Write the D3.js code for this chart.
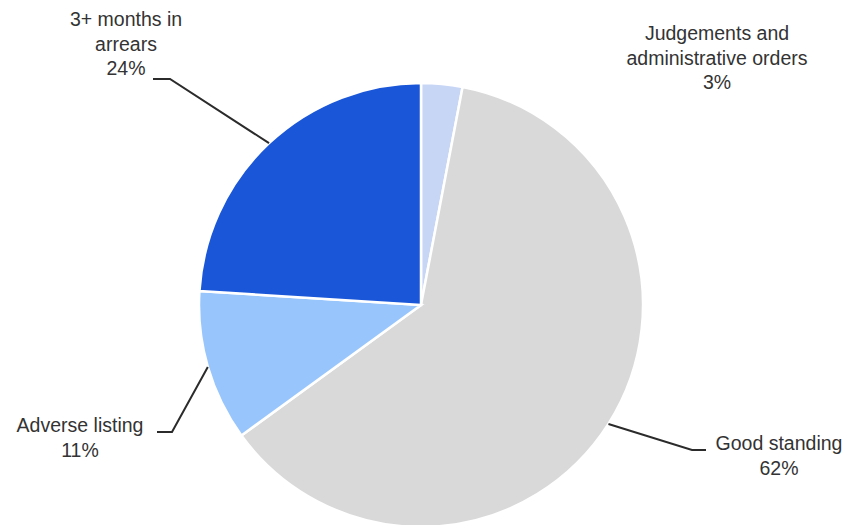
<!DOCTYPE html>
<html>
<head>
<meta charset="utf-8">
<script src="https://cdn.jsdelivr.net/npm/d3@7"></script>
<style>
  body { margin: 0; background: #fff; }
  svg { display: block; }
</style>
</head>
<body>
<div id="chart"></div>
<script>
// data, clockwise from 12 o'clock
const categories = [
  "Judgements and administrative orders",
  "Good standing",
  "Adverse listing",
  "3+ months in arrears"
]
const values = [3, 62, 11, 24]
const labelLines = [
  ["Judgements and", "administrative orders", "3%"],
  ["Good standing", "62%"],
  ["Adverse listing", "11%"],
  ["3+ months in", "arrears", "24%"]
]

const colors = ["#c8d6f6", "#d9d9d9", "#98c6fc", "#1a56d8"]

// label layout: text anchor point, elbow of the leader, end of the leader
const labelLayout = [
  { x: 717, y: 35, elbow: null, end: null },
  { x: 779, y: 445, elbow: [692, 450], end: [706, 450] },
  { x: 80, y: 427, elbow: [172, 432], end: [157, 432] },
  { x: 126, y: 21, elbow: [170, 79], end: [153, 79] }
]

const width = 854, height = 525
const cx = 421, cy = 305, radius = 222
const lineHeight = 24.5

const svg = d3.select("#chart")
  .append("svg")
  .attr("width", width)
  .attr("height", height)

const pie = d3.pie().sort(null).value(d => d)
const arcs = pie(values)

const arc = d3.arc().innerRadius(0).outerRadius(radius)

const g = svg.append("g")
  .attr("transform", "translate(" + cx + "," + cy + ")")

g.selectAll("path.slice")
  .data(arcs)
  .join("path")
  .attr("class", "slice")
  .attr("d", arc)
  .attr("fill", (d, i) => colors[i])
  .attr("stroke", "#fff")
  .attr("stroke-width", 2.5)

// leader lines start on the rim at the middle angle of each slice
arcs.forEach((d, i) => {
  const lay = labelLayout[i]
  if (!lay.elbow) return
  const mid = (d.startAngle + d.endAngle) / 2
  const px = cx + radius * Math.sin(mid)
  const py = cy - radius * Math.cos(mid)
  svg.append("path")
    .attr("d", d3.line()([[px, py], lay.elbow, lay.end]))
    .attr("fill", "none")
    .attr("stroke", "#2b2b2b")
    .attr("stroke-width", 2)
})

labelLines.forEach((lines, i) => {
  const lay = labelLayout[i]
  const text = svg.append("text")
    .attr("text-anchor", "middle")
    .attr("font-family", "Liberation Sans, Arial, sans-serif")
    .attr("font-size", 19.5)
    .attr("fill", "#333")
  lines.forEach((line, j) => {
    text.append("tspan")
      .attr("x", lay.x)
      .attr("y", lay.y + j * lineHeight)
      .attr("dominant-baseline", "middle")
      .text(line)
  })
})
</script>
</body>
</html>
